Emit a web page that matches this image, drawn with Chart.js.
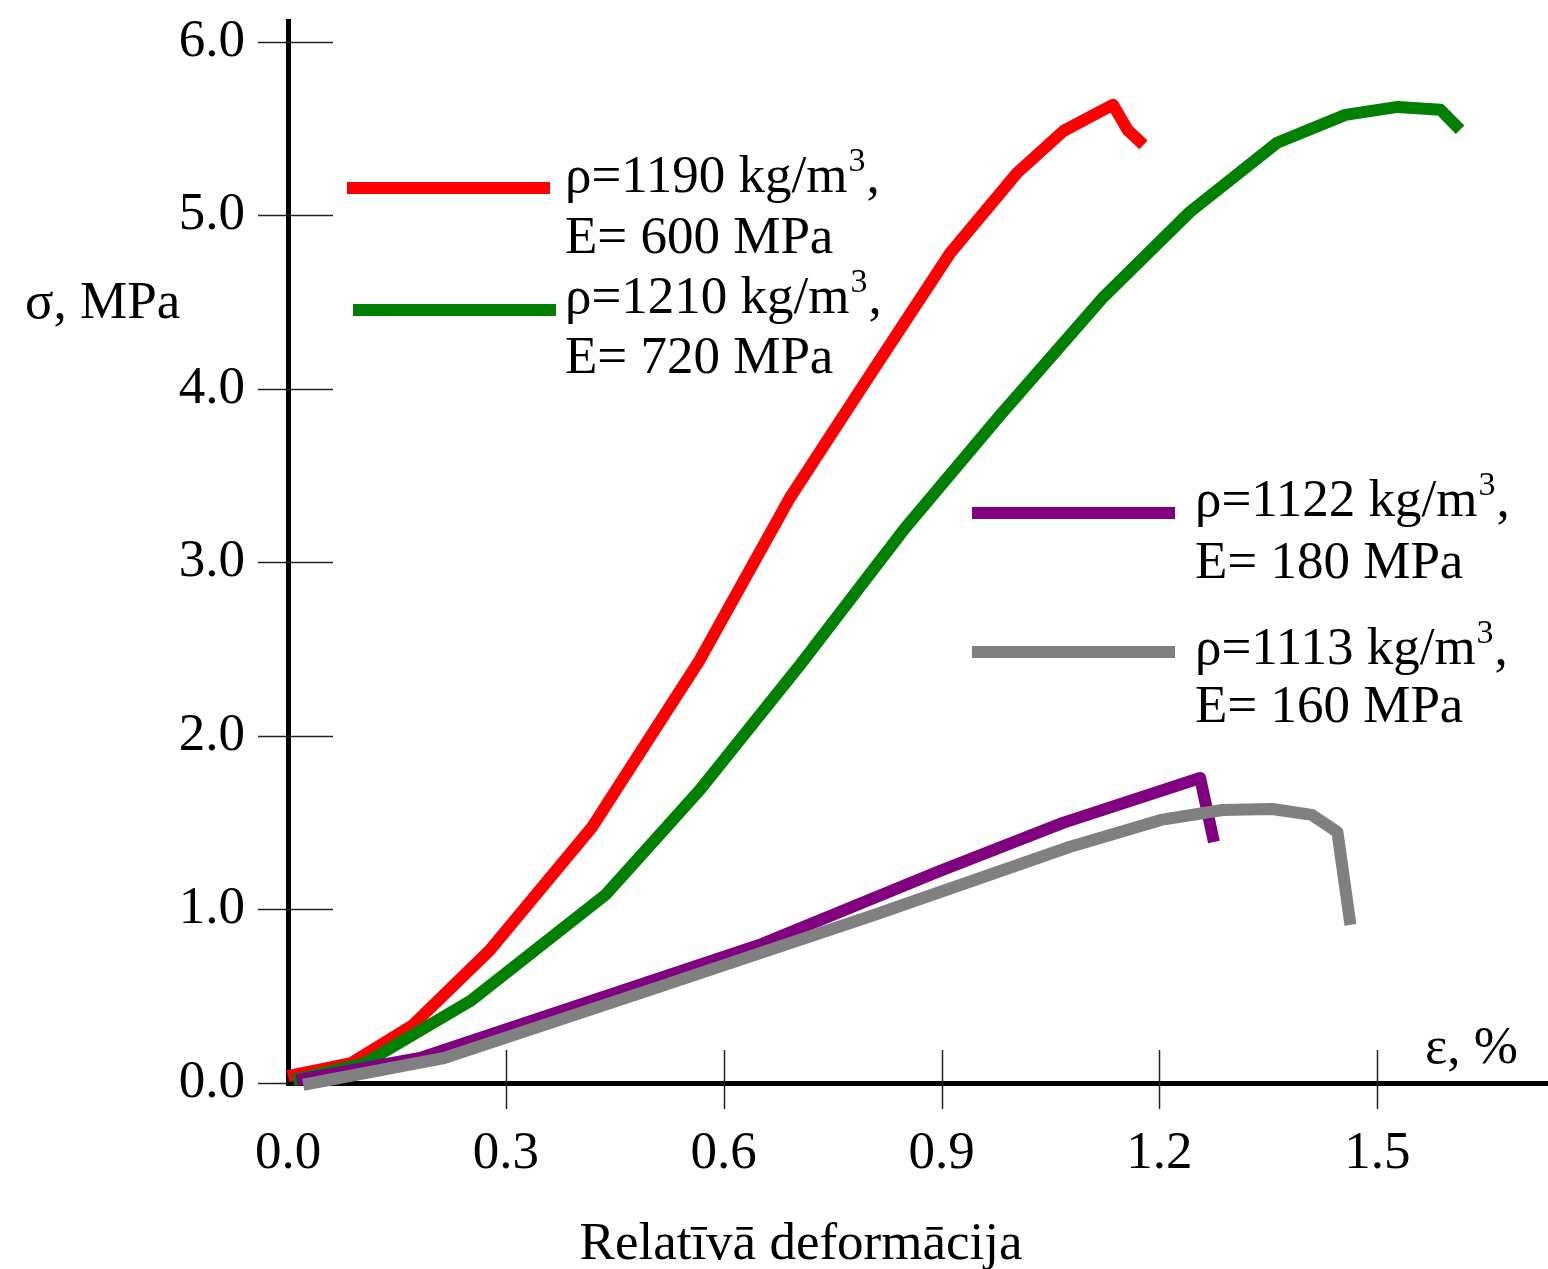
<!DOCTYPE html>
<html>
<head>
<meta charset="utf-8">
<script src="https://cdn.jsdelivr.net/npm/chart.js@4.4.1/dist/chart.umd.min.js"></script>
<style>
  body { margin: 0; background: #fff; }
  canvas { display: block; }
</style>
</head>
<body>
<canvas id="Chart1" width="1548" height="1269"></canvas>
<script>
// strain (%) and stress (MPa)
let eps1190 = [0.0, 0.087, 0.172, 0.278, 0.419, 0.567, 0.691, 0.798, 0.912, 1.004, 1.068, 1.136, 1.156, 1.178]
let sig1190 = [0.04, 0.115, 0.334, 0.766, 1.476, 2.438, 3.372, 4.058, 4.784, 5.245, 5.487, 5.637, 5.493, 5.406]

let eps1210 = [0.007, 0.106, 0.253, 0.437, 0.567, 0.705, 0.85, 0.981, 1.123, 1.242, 1.362, 1.456, 1.528, 1.587, 1.614]
let sig1210 = [0.017, 0.115, 0.478, 1.084, 1.689, 2.409, 3.199, 3.85, 4.53, 5.02, 5.418, 5.579, 5.625, 5.608, 5.493]

let eps1122 = [0.012, 0.182, 0.649, 0.894, 1.067, 1.256, 1.275]
let sig1122 = [0.017, 0.144, 0.795, 1.216, 1.499, 1.758, 1.389]

let eps1113 = [0.021, 0.215, 0.507, 0.807, 1.076, 1.202, 1.287, 1.355, 1.41, 1.445, 1.463]
let sig1113 = [-0.01, 0.144, 0.548, 0.968, 1.36, 1.516, 1.573, 1.579, 1.545, 1.447, 0.911]

let densities = [1190, 1210, 1122, 1113]
let moduli = [600, 720, 180, 160]
let colores = ["#ff0000", "#008000", "#800080", "#808080"]

let xTicks = [0, 0.3, 0.6, 0.9, 1.2, 1.5]
let yTicks = [0, 1, 2, 3, 4, 5, 6]

let xTitle = "Relatīvā deformācija"
let xUnit = "ε, %"
let yTitle = "σ, MPa"

const FONT = "Liberation Serif"

let series = [[eps1190, sig1190], [eps1210, sig1210], [eps1122, sig1122], [eps1113, sig1113]]

let datasets = series.map((s, i) => ({
    label: `ρ=${densities[i]} kg/m3, E= ${moduli[i]} MPa`,
    data: s[0].map((x, j) => ({x: x, y: s[1][j]})),
    borderColor: colores[i],
    backgroundColor: colores[i],
    borderWidth: 12,
    borderJoinStyle: "round",
    pointRadius: 0,
    tension: 0,
    clip: false,
    order: 4 - i   // gray ends up on top
}))

// where the legend samples and texts sit
let legendPos = [
    {x0: 347, x1: 550, y: 188, tx: 565, b1: 192, b2: 253},
    {x0: 353, x1: 556, y: 310, tx: 565, b1: 313, b2: 373},
    {x0: 972, x1: 1175, y: 513, tx: 1195, b1: 516, b2: 578},
    {x0: 972, x1: 1175, y: 652, tx: 1195, b1: 664, b2: 722}
]

let extras = {
    id: "extras",
    afterDraw(chart) {
        const ctx = chart.ctx
        const xs = chart.scales.x
        const ys = chart.scales.y
        const axisX = xs.getPixelForValue(0)
        const axisY = ys.getPixelForValue(0)
        ctx.save()
        // tick marks crossing the axes
        ctx.strokeStyle = "#222"
        ctx.lineWidth = 1.5
        yTicks.forEach(v => {
            let p = Math.round(ys.getPixelForValue(v)) + 0.5
            ctx.beginPath()
            ctx.moveTo(axisX - 30, p)
            ctx.lineTo(v === 0 ? axisX : axisX + 45, p)
            ctx.stroke()
        })
        xTicks.forEach(v => {
            if (v === 0) return
            let p = Math.round(xs.getPixelForValue(v)) + 0.5
            ctx.beginPath()
            ctx.moveTo(p, axisY - 33)
            ctx.lineTo(p, axisY + 26)
            ctx.stroke()
        })

        // axis titles
        ctx.fillStyle = "#000"
        ctx.font = `53px "${FONT}"`
        ctx.textBaseline = "alphabetic"
        ctx.textAlign = "left"
        ctx.fillText(yTitle, 25, 318)
        ctx.fillText(xUnit, 1425, 1063)
        ctx.textAlign = "center"
        ctx.fillText(xTitle, 801, 1259)

        // legend
        ctx.textAlign = "left"
        legendPos.forEach((p, i) => {
            ctx.strokeStyle = colores[i]
            ctx.lineWidth = 12
            ctx.lineCap = "butt"
            ctx.beginPath()
            ctx.moveTo(p.x0, p.y)
            ctx.lineTo(p.x1, p.y)
            ctx.stroke()

            ctx.font = `53px "${FONT}"`
            let t1 = `ρ=${densities[i]} kg/m`
            ctx.fillText(t1, p.tx, p.b1)
            let w = ctx.measureText(t1).width
            ctx.font = `34px "${FONT}"`
            ctx.fillText("3", p.tx + w + 1, p.b1 - 21)
            let w3 = ctx.measureText("3").width
            ctx.font = `53px "${FONT}"`
            ctx.fillText(",", p.tx + w + w3 + 2, p.b1)
            ctx.fillText(`E= ${moduli[i]} MPa`, p.tx, p.b2)
        })
        ctx.restore()
    }
}

new Chart(document.getElementById("Chart1"), {
    type: "line",
    data: { datasets: datasets },
    options: {
        responsive: false,
        animation: false,
        layout: { padding: { top: 21, left: 0, right: 0, bottom: 0 } },
        plugins: {
            legend: { display: false },
            tooltip: { enabled: false }
        },
        scales: {
            x: {
                type: "linear",
                min: 0,
                max: 1.735,
                grid: { display: false },
                border: { color: "#000", width: 5 },
                afterBuildTicks: s => { s.ticks = xTicks.map(v => ({value: v})) },
                afterFit: s => { s.height = 186; s.paddingLeft = 0; s.paddingRight = 0 },
                ticks: {
                    color: "#000",
                    padding: 31,
                    maxRotation: 0,
                    autoSkip: false,
                    font: { family: FONT, size: 53 },
                    callback: v => Number(v).toFixed(1)
                }
            },
            y: {
                type: "linear",
                min: 0,
                max: 6.12,
                grid: { display: false },
                border: { color: "#000", width: 5 },
                afterBuildTicks: s => { s.ticks = yTicks.map(v => ({value: v})) },
                afterFit: s => { s.width = 288; s.paddingTop = 0; s.paddingBottom = 0 },
                ticks: {
                    color: "#000",
                    padding: 35,
                    font: { family: FONT, size: 53 },
                    callback: v => Number(v).toFixed(1)
                }
            }
        }
    },
    plugins: [extras]
})
</script>
</body>
</html>
